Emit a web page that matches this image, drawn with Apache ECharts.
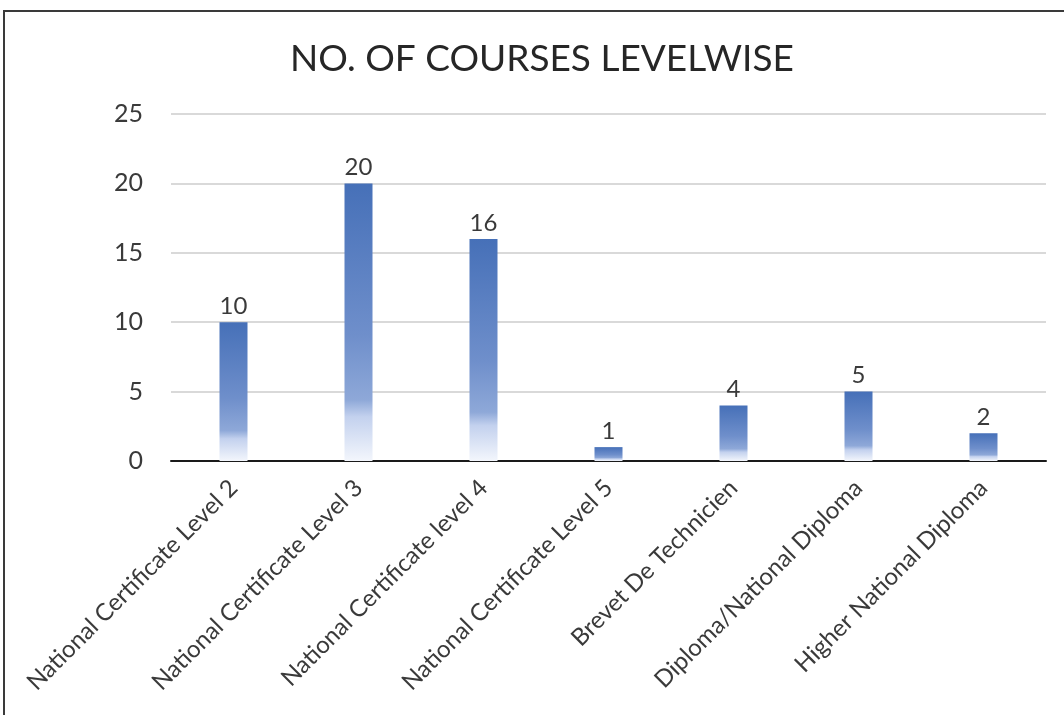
<!DOCTYPE html>
<html>
<head>
<meta charset="utf-8">
<script src="https://cdn.jsdelivr.net/npm/echarts@6/dist/echarts.min.js"></script>
<style>
  html, body { margin: 0; padding: 0; background: #fff; }
  #chart { width: 1064px; height: 715px; }
</style>
</head>
<body>
<div id="chart"></div>
<script>
// Course counts per qualification level
const categories = [
  'National Certificate Level 2',
  'National Certificate Level 3',
  'National Certificate level 4',
  'National Certificate Level 5',
  'Brevet De Technicien',
  'Diploma/National Diploma',
  'Higher National Diploma'
];
const courseCounts = [10, 20, 16, 1, 4, 5, 2];
const yTicks = [0, 5, 10, 15, 20, 25];

const chart = echarts.init(document.getElementById('chart'));

// Bar fill: deep blue at the top fading to near-white at the base
const barFill = new echarts.graphic.LinearGradient(0, 0, 0, 1, [
  { offset: 0, color: '#4670b8' },
  { offset: 0.55, color: '#6f8fcb' },
  { offset: 0.78, color: '#8ea8d8' },
  { offset: 0.84, color: '#c3d1ee' },
  { offset: 1, color: '#f3f6fc' }
]);

chart.setOption({
  animation: false,
  textStyle: { fontFamily: 'Lato, sans-serif' },
  graphic: [{
    type: 'rect',
    shape: { x: 4, y: 11, width: 1200, height: 900 },
    style: { fill: 'none', stroke: '#3a3a3a', lineWidth: 2 },
    silent: true
  }],
  title: {
    text: 'NO. OF COURSES LEVELWISE',
    left: 285,
    top: 36,
    textStyle: { fontSize: 37, fontWeight: 'normal', color: '#262626', fontFamily: 'Lato, sans-serif' }
  },
  grid: { left: 171, right: 18, top: 114, bottom: 254, containLabel: false },
  xAxis: {
    type: 'category',
    data: categories,
    axisLine: { lineStyle: { color: '#1a1a1a', width: 2 } },
    axisTick: { show: false },
    axisLabel: {
      rotate: 45,
      margin: 23,
      fontSize: 24,
      color: '#3a3a3a',
      interval: 0
    }
  },
  yAxis: {
    type: 'value',
    min: yTicks[0],
    max: yTicks[yTicks.length - 1],
    interval: 5,
    axisLine: { show: false },
    axisTick: { show: false },
    axisLabel: { fontSize: 25, color: '#3a3a3a', margin: 28 },
    splitLine: { lineStyle: { color: '#d9d9d9', width: 2 } }
  },
  series: [{
    type: 'bar',
    data: courseCounts,
    barWidth: 28,
    itemStyle: { color: barFill },
    label: {
      show: true,
      position: 'top',
      distance: 4,
      fontSize: 24,
      color: '#3a3a3a'
    }
  }]
});
</script>
</body>
</html>
